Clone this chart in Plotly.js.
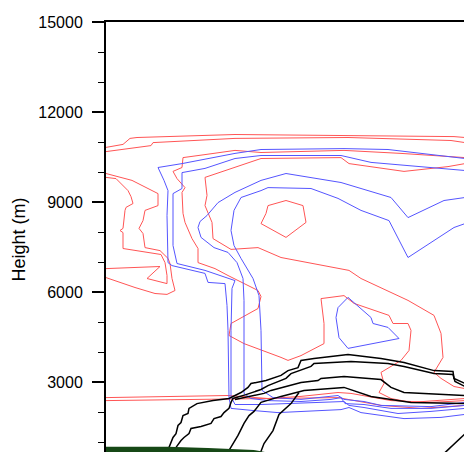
<!DOCTYPE html>
<html>
<head>
<meta charset="utf-8">
<script src="https://cdn.plot.ly/plotly-3.0.1.min.js"></script>
<style>
html,body{margin:0;padding:0;overflow:hidden;background:#fff;}
#chart{width:606px;height:516px;}
</style>
</head>
<body>
<div id="chart"></div>
<script>
// ---- data (distance along section, height in m) ----
const yTicks = [3000, 6000, 9000, 12000, 15000];

// red contours
const r1X = [0,17,24,31,129,242,348,359,375];
const r1Y = [10820,10920,11120,11150,11250,11220,11180,11150,11150];
const r1bX = [0,62,122,162,195,232,245,285,325,359,375];
const r1bY = [2480,2520,2550,2450,2520,2650,2620,2380,2320,2380,2380];
const r2X = [0,45,47,129,242,345,359,375];
const r2Y = [10680,10880,10980,11120,11150,11050,10980,10950];
const r2bX = [0,122,178,232,275,315,359,375];
const r2bY = [2380,2420,2450,2480,2220,2120,2220,2220];
const r3X = [375,359,295,238,155,129,99,77,76,67,71,79,76,77,79,86,92,92,109,122,152,155,152,125,123,138,175,182,195,218,218,215,238,248,283,287,302,305,303,295,275,278,273,285,305,359,375];
const r3Y = [10480,10480,10620,10720,10650,10720,10580,10480,10150,10020,9780,9480,9320,8620,8320,7780,7450,6980,6780,6550,6050,5850,5450,4950,4550,4280,3820,3720,3880,4280,4950,5780,5880,5620,5220,4950,4950,4720,4050,3720,3320,2950,2650,2450,2320,2450,2450];
const r4X = [375,359,342,298,243,235,155,129,99,101,99,106,107,125,152,175,205,243,255,292,302,328,335,337,328,335,348,359,375];
const r4Y = [10320,10280,10180,10020,10280,10480,10450,10150,9820,9220,8880,8320,7780,7420,7480,7150,6950,6720,6450,5880,5720,5220,4620,3820,3320,3120,2850,2780,2750];
const rHexX = [162,180,197,200,180,155,160,162];
const rHexY = [8880,9050,8880,8320,7820,8280,8620,8880];
const rL1X = [0,26,52,52,39,37,33,37,39,54,62,64,66,69,61,49,29,0];
const rL1Y = [9950,9720,9280,8880,8720,8380,8120,7950,7480,7380,7120,6950,6450,6050,5920,5950,6150,6480];
const rL2X = [0,10,22,25,27,20,19,17,14,17,17,32,55,59,61,61,41,54,0];
const rL2Y = [9820,9780,9380,9180,8950,8820,8720,8120,8050,7980,7450,7380,7250,6980,6550,6280,6450,6850,6780];

// blue contours
const b1X = [375,359,282,238,155,129,76,52,58,62,61,62,66,99,102,119,121,122,123,125,147,172,235,243,255,298,335,359,375];
const b1Y = [10400,10450,10750,10780,10750,10620,10280,10150,9720,9380,8550,6980,6880,6620,6320,6280,5550,4720,2480,2120,2050,1980,2080,2150,1980,1780,1820,1920,1920];
const b2X = [375,359,265,235,155,129,99,76,76,67,67,71,99,119,129,126,125,125,129,155,188,238,243,258,292,325,359,375];
const b2Y = [10020,10050,10320,10550,10550,10450,10120,9980,9450,9280,7550,6950,6720,6480,6380,6120,4720,2520,2250,2250,2280,2350,2220,2150,1950,2020,2120,2120];
const b3X = [375,359,338,302,285,235,180,155,129,112,101,94,92,95,108,122,131,137,138,138,145,162,195,225,235,239,258,285,325,359,375];
const b3Y = [9180,9150,9050,8480,9150,9650,9950,9720,9320,8980,8550,8350,8150,7820,7480,7320,6980,6450,5720,2620,2450,2380,2350,2420,2480,2280,2250,2120,2120,2220,2220];
const b4X = [375,359,348,318,302,283,255,232,205,162,155,135,128,125,128,135,147,153,155,156,167,195,225,232,238,258,275,325,359,375];
const b4Y = [8380,8280,8150,7480,7150,8380,8720,9120,9450,9480,9380,9150,8720,8050,7550,7120,6450,5880,4720,2720,2480,2420,2520,2550,2420,2350,2220,2180,2320,2320];
const bLobeX = [232,242,265,267,282,293,242,233,230,232];
const bLobeY = [5480,5820,5150,4950,4820,4450,4120,4480,5150,5480];

// black contours
const kAX = [63,63,67,70,72,75,77,82,83,88,91,107,123,135,142,145,160,175,182,192,195,208,242,275,298,328,347,348,359,375];
const kAY = [520,820,1150,1280,1550,1650,1880,1950,2120,2220,2280,2380,2450,2650,2820,2950,3050,3220,3380,3480,3720,3780,3920,3780,3650,3380,3350,3120,2950,2780];
const kBX = [70,70,75,78,83,85,95,105,108,115,118,123,125,127,140,155,162,180,185,205,208,245,282,298,328,347,349,359,375];
const kBY = [520,820,1050,1150,1280,1450,1520,1620,1780,1850,1980,2120,2320,2450,2580,2750,2880,3120,3280,3520,3620,3680,3620,3520,3280,3250,3020,2850,2680];
const kCX = [129,145,158,165,185,195,212,215,238,275,285,298,359,375];
const kCY = [2420,2520,2620,2720,2880,2980,3050,3120,3180,3080,2820,2650,2550,2550];
const kDX = [123,123,132,138,143,148,155,175,198,238,265,305,359,375];
const kDY = [520,720,1220,1620,1880,2020,2320,2520,2720,2820,2520,2320,2280,2280];
const kFX = [153,158,167,173,185,193];
const kFY = [520,950,1380,1920,2280,2650];
const kGX = [335,359,375];
const kGY = [520,1280,1780];

// terrain
const terX = [0,62,102,148,170,200];
const terY = [840,840,800,730,600,400];

// ---- traces ----
const RED = 'rgb(255,85,85)', BLUE = 'rgb(85,85,255)', BLACK = '#000';
function ln(x, y, color, w) {
  return {x: x, y: y, type: 'scatter', mode: 'lines', hoverinfo: 'skip',
          showlegend: false, line: {color: color, width: w}};
}
const traces = [
  ln(r1X, r1Y, RED, 1), ln(r1bX, r1bY, RED, 1), ln(r2X, r2Y, RED, 1), ln(r2bX, r2bY, RED, 1),
  ln(r3X, r3Y, RED, 1), ln(r4X, r4Y, RED, 1), ln(rHexX, rHexY, RED, 1),
  ln(rL1X, rL1Y, RED, 1), ln(rL2X, rL2Y, RED, 1),
  ln(b1X, b1Y, BLUE, 1), ln(b2X, b2Y, BLUE, 1), ln(b3X, b3Y, BLUE, 1), ln(b4X, b4Y, BLUE, 1),
  ln(bLobeX, bLobeY, BLUE, 1),
  ln(kAX, kAY, BLACK, 1.5), ln(kBX, kBY, BLACK, 1.5), ln(kCX, kCY, BLACK, 1.5),
  ln(kDX, kDY, BLACK, 1.5), ln(kFX, kFY, BLACK, 1.5), ln(kGX, kGY, BLACK, 1.5),
  {x: terX, y: terY, type: 'scatter', mode: 'lines', fill: 'tozeroy',
   fillcolor: 'rgb(22,72,22)', line: {width: 0, color: 'rgb(22,72,22)'},
   hoverinfo: 'skip', showlegend: false}
];

const FONT = "'Liberation Sans', Arial, Helvetica, sans-serif";
const layout = {
  width: 606, height: 516,
  margin: {l: 106, r: 20, t: 22, b: 59},
  paper_bgcolor: '#fff', plot_bgcolor: '#fff',
  font: {family: FONT, color: '#000'},
  showlegend: false,
  xaxis: {range: [0, 480], showline: true, mirror: true, linewidth: 2, linecolor: '#000',
          showgrid: false, zeroline: false, ticks: '', showticklabels: false},
  yaxis: {range: [500, 15000], showline: true, mirror: true, linewidth: 2, linecolor: '#000',
          showgrid: false, zeroline: false,
          tickmode: 'array', tickvals: yTicks, ticktext: yTicks.map(String),
          ticks: 'outside', ticklen: 12, tickwidth: 2, tickcolor: '#000',
          ticklabelstandoff: 6,
          minor: {dtick: 1000, tick0: 0, ticks: 'outside', ticklen: 6, tickwidth: 1, tickcolor: '#000'},
          tickfont: {family: FONT, size: 16, color: '#000'},
          title: {text: 'Height (m)', font: {family: FONT, size: 18, color: '#000'}, standoff: 8}}
};
Plotly.newPlot('chart', traces, layout, {staticPlot: true, displayModeBar: false});
</script>
</body>
</html>
